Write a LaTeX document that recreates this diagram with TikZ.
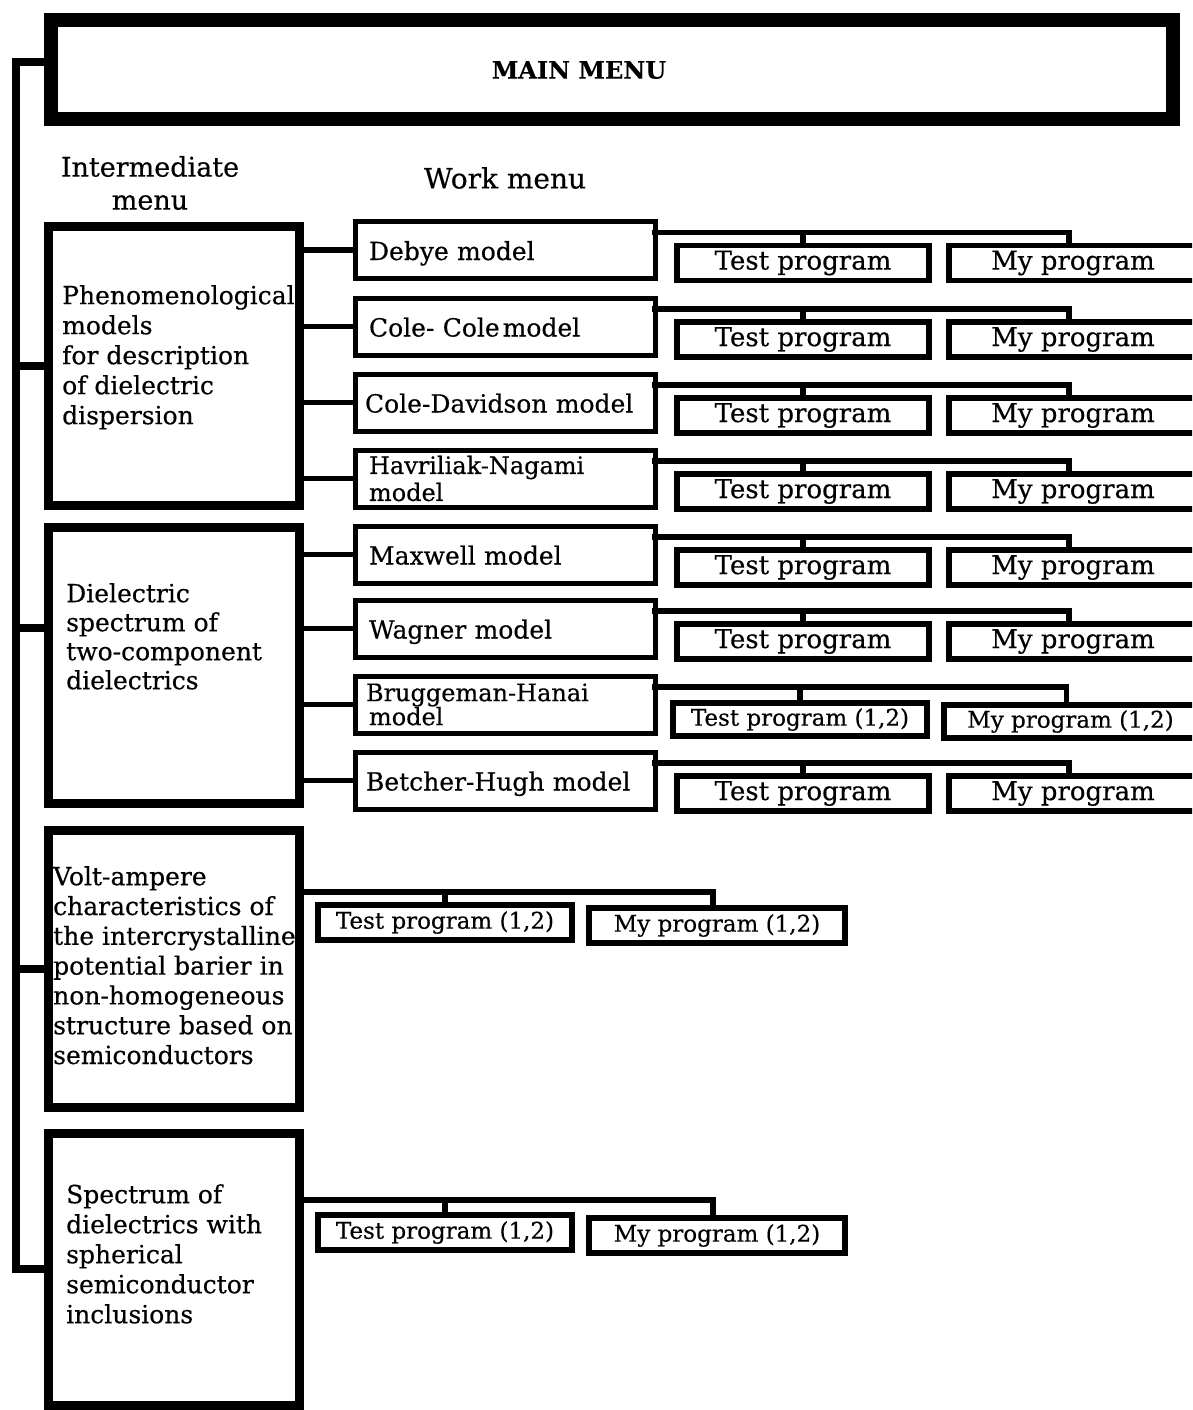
\documentclass[tikz,border=0pt]{standalone}
\usepackage{fontspec}
\setmainfont{DejaVu Serif}[FakeBold=0.4]
\usetikzlibrary{calc}
\tikzset{
  mainbox/.style={draw, line width=14pt, minimum width=1122pt, minimum height=99pt, anchor=north west, inner sep=0pt, outer sep=0pt},
  ibox/.style={draw, line width=9pt, minimum width=251pt, anchor=north west, inner sep=0pt, outer sep=0pt},
  itext/.style={anchor=north west, inner sep=0pt, align=left, font=\fontsize{25pt}{30pt}\selectfont},
  wbox/.style={draw, line width=5pt, minimum height=57pt, anchor=north west, inner xsep=14pt, inner ysep=0pt, outer sep=0pt, text width=272pt, align=left, font=\fontsize{25pt}{30pt}\selectfont, text height=26pt, text depth=6pt},
  wbox2/.style={draw, line width=5pt, minimum height=57pt, anchor=north west, inner xsep=14pt, inner ysep=0pt, outer sep=0pt, text width=272pt, align=left, font=\fontsize{24pt}{27pt}\selectfont},
  pbox/.style={draw, line width=5.5pt, minimum height=35pt, anchor=north west, inner sep=0pt, outer sep=0pt, font=\fontsize{26pt}{30pt}\selectfont},
  pbox2/.style={pbox, minimum height=33pt, font=\fontsize{23pt}{28pt}\selectfont},
  conn/.style={line width=5.5pt, line cap=rect},
  bus/.style={line width=8pt, line cap=rect},
  lbl/.style={font=\fontsize{27pt}{33pt}\selectfont, align=center, inner sep=0pt}
}
\begin{document}
\begin{tikzpicture}[x=1pt, y=-1pt]
\useasboundingbox (0,0) rectangle (1192,1410);
\clip (0,0) rectangle (1192,1410);
% main menu
\node[mainbox] (main) at (51,20) {};
\node[font=\fontsize{24pt}{28pt}\selectfont\bfseries, inner sep=0pt] (mainlbl) at (579,70) {MAIN MENU};
% headers
\node[lbl] (hint) at (150,183) {Intermediate\\menu};
\node[lbl, font=\fontsize{28pt}{33pt}\selectfont] (hwork) at (505,178) {Work menu};
% intermediate boxes
\node[ibox, minimum height=279pt] (i1) at (48,226) {};
\node[ibox, minimum height=276pt] (i2) at (48,527) {};
\node[ibox, minimum height=277pt] (i3) at (48,830) {};
\node[ibox, minimum height=272pt] (i4) at (48,1133) {};
\node[itext] (t1txt) at (62,285) {Phenomenological\\models\\for description\\of dielectric\\dispersion};
\node[itext, font=\fontsize{25pt}{29pt}\selectfont] (t2txt) at (66,583) {Dielectric\\spectrum of\\two-component\\dielectrics};
\begin{scope}
\clip (44,826) rectangle (297,1111);
\node[itext, font=\fontsize{25pt}{29.8pt}\selectfont] (t3txt) at (53,866) {Volt-ampere\\characteristics of\\the intercrystalline\\potential barier in\\non-homogeneous\\structure based on\\semiconductors};
\end{scope}
\node[itext] (t4txt) at (66,1184) {Spectrum of\\dielectrics with\\spherical\\semiconductor\\inclusions};
% bus
\coordinate (busT) at (16,62);
\coordinate (busB) at (16,1269);
\coordinate (br2) at (16,628);
\draw[bus] (busT -| main.west) -- (busT) -- (busB) -- (busB -| i4.west);
\draw[bus] (busT |- i1.west) -- (i1.west);
\draw[bus] (br2) -- (br2 -| i2.west);
\draw[bus] (busT |- i3.west) -- (i3.west);
% work boxes
\node[wbox] (w1) at (355,221.5) {Debye model};
\node[wbox] (w2) at (355,298) {Cole- Cole\kern3pt model};
\node[wbox] (w3) at (355,374) {\kern-4pt Cole-Davidson model};
\node[wbox2] (w4) at (355,450) {Havriliak-Nagami\\model};
\node[wbox] (w5) at (355,526) {Maxwell model};
\node[wbox] (w6) at (355,600) {Wagner model};
\node[wbox2] (w7) at (355,676) {\kern-3pt Bruggeman-Hanai\\\kern-3pt model};
\node[wbox] (w8) at (355,752) {\kern-3pt Betcher-Hugh model};
% connectors intermediate -> work
\foreach \w in {w1,w2,w3,w4} \draw[conn] (i1.east |- \w.west) -- (\w.west);
\foreach \w in {w5,w6,w7,w8} \draw[conn] (i2.east |- \w.west) -- (\w.west);
% program boxes
\node[pbox, minimum width=252pt] (p1t) at (677,245.5) {Test program};
\node[pbox, minimum width=248pt] (p1m) at (949,245.5) {My program};
\node[pbox, minimum width=252pt] (p2t) at (677,322) {Test program};
\node[pbox, minimum width=248pt] (p2m) at (949,322) {My program};
\node[pbox, minimum width=252pt] (p3t) at (677,398) {Test program};
\node[pbox, minimum width=248pt] (p3m) at (949,398) {My program};
\node[pbox, minimum width=252pt] (p4t) at (677,474) {Test program};
\node[pbox, minimum width=248pt] (p4m) at (949,474) {My program};
\node[pbox, minimum width=252pt] (p5t) at (677,550) {Test program};
\node[pbox, minimum width=248pt] (p5m) at (949,550) {My program};
\node[pbox, minimum width=252pt] (p6t) at (677,624) {Test program};
\node[pbox, minimum width=248pt] (p6m) at (949,624) {My program};
\node[pbox2, minimum width=254pt] (p7t) at (673,703) {Test program (1,2)};
\node[pbox2, minimum width=253pt] (p7m) at (944,705) {My program (1,2)};
\node[pbox, minimum width=252pt] (p8t) at (677,776) {Test program};
\node[pbox, minimum width=248pt] (p8m) at (949,776) {My program};
% brackets from work boxes
\foreach \i in {1,...,8} {
  \path ([yshift=-11pt]w\i.north east) coordinate (k\i);
  \draw[conn] (k\i) -| ([xshift=-4pt]p\i m.north);
  \draw[conn] (k\i -| p\i t.north) -- (p\i t.north);
}
% program boxes for boxes 3 and 4
\node[pbox2, minimum height=35pt, minimum width=254pt] (q3t) at (318,905) {Test program (1,2)};
\node[pbox2, minimum height=35pt, minimum width=256pt] (q3m) at (589,908) {My program (1,2)};
\node[pbox2, minimum height=35pt, minimum width=254pt] (q4t) at (318,1215) {Test program (1,2)};
\node[pbox2, minimum height=35pt, minimum width=256pt] (q4m) at (589,1218) {My program (1,2)};
\path ([yshift=-62pt]i3.north east) coordinate (k9);
\draw[conn] (k9) -| ([xshift=-4pt]q3m.north);
\draw[conn] (k9 -| q3t.north) -- (q3t.north);
\path ([yshift=-67pt]i4.north east) coordinate (k10);
\draw[conn] (k10) -| ([xshift=-4pt]q4m.north);
\draw[conn] (k10 -| q4t.north) -- (q4t.north);
\end{tikzpicture}
\end{document}
